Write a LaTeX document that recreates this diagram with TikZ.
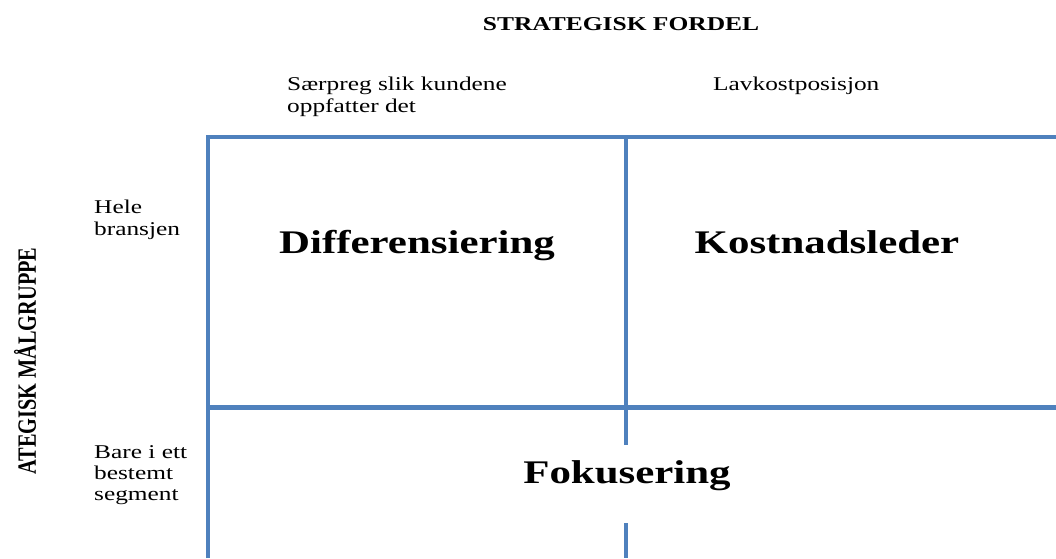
\documentclass[tikz,border=0pt]{standalone}
\usepackage{fontspec}
\usepackage{graphicx}
\setmainfont{Liberation Serif}[FakeStretch=1.3]
\newfontfamily\plainserif{Liberation Serif}
\definecolor{gridblue}{RGB}{79,129,189}
\tikzset{
  gridline/.style={draw=gridblue, line width=4.5pt, line join=miter},
  axistitle/.style={inner sep=0pt, font=\fontsize{19.6}{22}\selectfont\bfseries},
  axislabel/.style={inner sep=0pt, align=left, font=\fontsize{19.5}{22}\selectfont},
  strategy/.style={inner sep=0pt, font=\fontsize{33}{38}\selectfont\bfseries}
}
\begin{document}
\begin{tikzpicture}[x=1pt,y=-1pt]
  \useasboundingbox (0,0) rectangle (1056,558);
  \fill[white] (0,0) rectangle (1056,558);

  % grid corners and split points
  \coordinate (bl) at (208,558);
  \coordinate (tl) at (208,137);
  \coordinate (tr) at (1056,137);
  \coordinate (ml) at (208,407);
  \coordinate (mr) at (1056,407);
  \coordinate (ct) at (626,137);
  \coordinate (cm) at (626,445);
  \coordinate (cb1) at (626,523);
  \coordinate (cb2) at (626,558);

  % frame and dividers
  \draw[gridline] (bl) -- (tl) -- (tr);
  \draw[gridline, line width=5pt] (ml) -- (mr);
  \draw[gridline] (ct) -- (cm);
  \draw[gridline] (cb1) -- (cb2);

  % axis titles
  \node[axistitle, anchor=base] (top) at (621,30) {STRATEGISK FORDEL};
  \node[inner sep=0pt, rotate=90, anchor=center] (side) at (25,361)
    {\scalebox{1}[1.3]{\plainserif\fontsize{20.3}{24}\selectfont\bfseries ATEGISK MÅLGRUPPE}};

  % column and row labels (base anchor sits on the last line)
  \node[axislabel, anchor=base west] (col1) at (287,112) {Særpreg slik kundene\\oppfatter det};
  \node[axislabel, anchor=base west] (col2) at (713,90) {Lavkostposisjon};
  \node[axislabel, anchor=base west] (row1) at (94,235) {Hele\\bransjen};
  \node[axislabel, anchor=base west, font=\fontsize{19.5}{21}\selectfont] (row2) at (94,500) {Bare i ett\\bestemt\\segment};

  % generic strategies
  \node[strategy, anchor=base] (diff) at (417,253) {Differensiering};
  \node[strategy, anchor=base] (cost) at (827,253) {Kostnadsleder};
  \node[strategy, anchor=base] (focus) at (627,483) {Fokusering};
\end{tikzpicture}
\end{document}
